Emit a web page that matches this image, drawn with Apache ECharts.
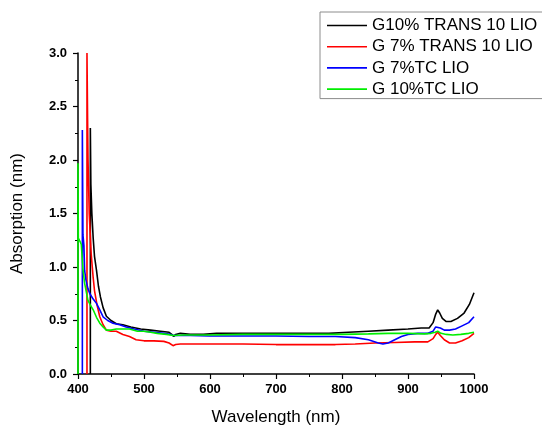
<!DOCTYPE html>
<html>
<head>
<meta charset="utf-8">
<script src="https://cdn.jsdelivr.net/npm/echarts@6/dist/echarts.min.js"></script>
<style>
html,body{margin:0;padding:0;background:#fff;overflow:hidden;}
#chart{width:542px;height:431px;}
</style>
</head>
<body>
<div id="chart"></div>
<script>
var seriesNames = ['G10% TRANS 10 LIO', 'G 7% TRANS 10 LIO', 'G 7%TC LIO', 'G 10%TC LIO'];
var xTicks = [400, 500, 600, 700, 800, 900, 1000];
var yTicks = [0.0, 0.5, 1.0, 1.5, 2.0, 2.5, 3.0];

var blackWl = [418.7, 418.7, 419.5, 421, 423, 425, 428, 431, 434, 438, 443, 450, 458, 468, 480, 495, 510, 525, 538, 542, 545, 548, 555, 570, 590, 610, 630, 660, 700, 740, 780, 810, 840, 870, 900, 920, 932, 938, 942, 945, 948, 952, 958, 965, 975, 985, 993, 1000];
var blackVal = [0, 2.30, 1.77, 1.50, 1.27, 1.10, 0.97, 0.82, 0.72, 0.62, 0.54, 0.50, 0.47, 0.46, 0.44, 0.42, 0.41, 0.40, 0.39, 0.37, 0.35, 0.37, 0.38, 0.37, 0.37, 0.38, 0.38, 0.38, 0.38, 0.38, 0.38, 0.39, 0.40, 0.41, 0.42, 0.43, 0.43, 0.48, 0.56, 0.60, 0.57, 0.52, 0.49, 0.49, 0.52, 0.57, 0.65, 0.76];

var redWl = [413.6, 413.6, 414.5, 415.2, 417, 420, 423, 425, 429, 433, 438, 443, 450, 458, 468, 478, 488, 500, 515, 530, 538, 544, 548, 555, 570, 600, 650, 700, 750, 790, 820, 850, 880, 910, 930, 938, 942, 945, 949, 955, 963, 972, 982, 992, 1000];
var redVal = [0, 3.0, 2.4, 2.0, 1.5, 1.12, 0.90, 0.78, 0.64, 0.535, 0.46, 0.41, 0.40, 0.40, 0.37, 0.35, 0.32, 0.31, 0.31, 0.305, 0.29, 0.265, 0.275, 0.28, 0.28, 0.28, 0.28, 0.275, 0.275, 0.275, 0.28, 0.29, 0.295, 0.30, 0.30, 0.33, 0.37, 0.39, 0.36, 0.32, 0.29, 0.29, 0.31, 0.34, 0.38];

var blueWl = [406.6, 406.6, 407.5, 409, 410, 412, 415, 418, 423, 428, 433, 438, 445, 453, 463, 473, 485, 500, 515, 530, 540, 545, 550, 570, 600, 650, 700, 750, 790, 820, 840, 855, 862, 870, 880, 890, 900, 915, 930, 938, 942, 945, 949, 955, 963, 972, 982, 992, 1000];
var blueVal = [0, 2.28, 1.30, 1.20, 0.97, 0.88, 0.80, 0.75, 0.70, 0.66, 0.60, 0.535, 0.50, 0.475, 0.46, 0.44, 0.42, 0.40, 0.39, 0.38, 0.37, 0.36, 0.36, 0.36, 0.355, 0.355, 0.355, 0.35, 0.35, 0.34, 0.32, 0.29, 0.28, 0.29, 0.32, 0.35, 0.37, 0.38, 0.38, 0.40, 0.44, 0.45, 0.43, 0.41, 0.41, 0.42, 0.45, 0.48, 0.535];

var greenWl = [400, 400, 400.5, 403, 405, 407.6, 410, 415, 419, 423, 428, 433, 438, 443, 450, 458, 468, 478, 490, 500, 510, 520, 534, 545, 560, 600, 650, 700, 750, 800, 840, 870, 900, 925, 935, 941, 945, 950, 958, 968, 980, 992, 1000];
var greenVal = [0, 1.97, 1.27, 1.24, 1.21, 0.97, 0.85, 0.69, 0.64, 0.60, 0.53, 0.475, 0.44, 0.41, 0.41, 0.42, 0.42, 0.42, 0.40, 0.40, 0.39, 0.38, 0.37, 0.36, 0.365, 0.365, 0.37, 0.37, 0.37, 0.37, 0.375, 0.38, 0.38, 0.375, 0.38, 0.39, 0.40, 0.38, 0.37, 0.365, 0.37, 0.38, 0.39];

var colors = ['#000000', '#ff0000', '#0000ff', '#00ee00'];
var wls = [blackWl, redWl, blueWl, greenWl];
var vals = [blackVal, redVal, blueVal, greenVal];

function pairs(xs, ys) {
  var out = [];
  for (var i = 0; i < xs.length; i++) out.push([xs[i], ys[i]]);
  return out;
}

var series = seriesNames.map(function (name, i) {
  return {
    name: name,
    type: 'line',
    data: pairs(wls[i], vals[i]),
    symbol: 'none',
    smooth: false,
    clip: true,
    lineStyle: { color: colors[i], width: 1.6 },
    itemStyle: { color: colors[i] },
    z: 2
  };
});

var chart = echarts.init(document.getElementById('chart'), null, { renderer: 'canvas' });
chart.setOption({
  animation: false,
  backgroundColor: '#ffffff',
  textStyle: { fontFamily: 'Liberation Sans, Arial, sans-serif' },
  grid: { left: 78, right: 68, top: 53, bottom: 53, containLabel: false },
  legend: {
    orient: 'vertical',
    left: 320,
    top: 12,
    padding: [5, 6, 1, 7],
    itemWidth: 40,
    itemHeight: 1.6,
    itemGap: 4.2,
    icon: 'rect',
    borderColor: '#8c8c8c',
    borderWidth: 1,
    selectedMode: false,
    textStyle: { fontSize: 17, color: '#000', lineHeight: 16, padding: [0, 0, 0, 0], fontFamily: 'Liberation Sans, Arial, sans-serif' },
    data: seriesNames.map(function (n, i) { return { name: n, itemStyle: { color: colors[i] } }; })
  },
  xAxis: {
    type: 'value',
    min: 400,
    max: 1000,
    interval: 100,
    name: 'Wavelength (nm)',
    nameLocation: 'middle',
    nameGap: 35,
    nameTextStyle: { fontSize: 17, color: '#000' },
    axisLine: { show: true, lineStyle: { color: '#000', width: 1.5 } },
    axisTick: { show: true, inside: false, length: 5, lineStyle: { color: '#000', width: 1.2 } },
    minorTick: { show: true, splitNumber: 2, length: 3, lineStyle: { color: '#000', width: 1 } },
    axisLabel: {
      margin: 9, fontSize: 13, fontWeight: 'bold', color: '#000',
      formatter: function (v) { return String(v); }
    },
    splitLine: { show: false }
  },
  yAxis: {
    type: 'value',
    min: 0,
    max: 3,
    interval: 0.5,
    name: 'Absorption (nm)',
    nameLocation: 'middle',
    nameGap: 52,
    nameTextStyle: { fontSize: 17, color: '#000' },
    axisLine: { show: true, lineStyle: { color: '#000', width: 1.5 } },
    axisTick: { show: true, inside: false, length: 5, lineStyle: { color: '#000', width: 1.2 } },
    minorTick: { show: true, splitNumber: 2, length: 3, lineStyle: { color: '#000', width: 1 } },
    axisLabel: {
      margin: 11, fontSize: 13, fontWeight: 'bold', color: '#000',
      formatter: function (v) { return v.toFixed(1); }
    },
    splitLine: { show: false }
  },
  series: series
});
</script>
</body>
</html>
